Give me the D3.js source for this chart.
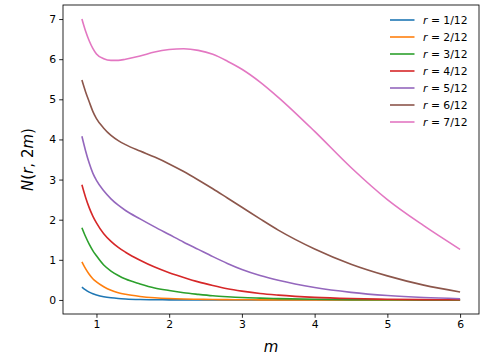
<!DOCTYPE html>
<html>
<head>
<meta charset="utf-8">
<script src="https://cdn.jsdelivr.net/npm/d3@7"></script>
<style>
  body { margin: 0; background: #fff; }
  svg { font-family: "DejaVu Sans", sans-serif; }
</style>
</head>
<body>
<svg width="498" height="361"></svg>
<script>
// sample points along m
var mValues = [0.8, 0.85, 0.9, 0.95, 1.0, 1.1, 1.2, 1.3, 1.4, 1.6, 1.8, 2.0, 2.2, 2.4, 2.6, 2.8, 3.0, 3.25, 3.5, 4.0, 4.5, 5.0, 5.5, 6.0];

var r1 = [0.32, 0.25, 0.195, 0.155, 0.125, 0.08, 0.053, 0.036, 0.025, 0.012, 0.006, 0.003, 0.0015, 0.001, 0, 0, 0, 0, 0, 0, 0, 0, 0, 0];
var r2 = [0.95, 0.78, 0.64, 0.53, 0.45, 0.33, 0.24, 0.18, 0.14, 0.088, 0.056, 0.036, 0.024, 0.016, 0.011, 0.007, 0.005, 0.003, 0.002, 0.001, 0, 0, 0, 0];
var r3 = [1.80, 1.58, 1.39, 1.23, 1.10, 0.87, 0.72, 0.61, 0.52, 0.40, 0.30, 0.235, 0.18, 0.14, 0.105, 0.08, 0.06, 0.045, 0.033, 0.017, 0.009, 0.005, 0.003, 0.001];
var r4 = [2.87, 2.56, 2.30, 2.09, 1.92, 1.65, 1.46, 1.31, 1.19, 0.99, 0.82, 0.68, 0.56, 0.45, 0.36, 0.28, 0.22, 0.16, 0.12, 0.065, 0.035, 0.018, 0.009, 0.004];
var r5 = [4.08, 3.72, 3.41, 3.16, 2.98, 2.72, 2.52, 2.36, 2.23, 2.02, 1.82, 1.63, 1.44, 1.26, 1.08, 0.91, 0.76, 0.61, 0.49, 0.31, 0.19, 0.11, 0.06, 0.03];
var r6 = [5.48, 5.19, 4.94, 4.70, 4.52, 4.28, 4.10, 3.97, 3.87, 3.71, 3.56, 3.39, 3.20, 2.99, 2.77, 2.54, 2.31, 2.02, 1.74, 1.27, 0.89, 0.60, 0.37, 0.20];
var r7 = [7.00, 6.70, 6.46, 6.27, 6.13, 6.01, 5.97, 5.97, 6.00, 6.08, 6.18, 6.24, 6.26, 6.22, 6.12, 5.95, 5.75, 5.43, 5.05, 4.20, 3.30, 2.50, 1.85, 1.26];

var labels = ["1/12", "2/12", "3/12", "4/12", "5/12", "6/12", "7/12"];
var colors = ["#1f77b4", "#ff7f0e", "#2ca02c", "#d62728", "#9467bd", "#8c564b", "#e377c2"];
var xTicks = [1, 2, 3, 4, 5, 6];
var yTicks = [0, 1, 2, 3, 4, 5, 6, 7];

var allSeries = [r1, r2, r3, r4, r5, r6, r7];

var plotLeft = 63, plotRight = 479, plotTop = 5, plotBottom = 314;

var svg = d3.select("svg");

var x = d3.scaleLinear().domain([0.54, 6.26]).range([plotLeft, plotRight]);
var y = d3.scaleLinear().domain([-0.35, 7.35]).range([plotBottom, plotTop]);

// monotoneX uses the real x spacing, so the uneven sample steps don't kink
var line = d3.line()
        .x(function(d){return x(d[0]);})
        .y(function(d){return y(d[1]);})
        .curve(d3.curveMonotoneX);

svg.selectAll("path.curve")
        .data(allSeries)
        .enter()
        .append("path")
        .attr("class", "curve")
        .attr("d", function(s){ return line(mValues.map(function(m, i){return [m, s[i]];})); })
        .style("fill", "none")
        .style("stroke", function(d, i){return colors[i];})
        .style("stroke-width", "1.6px");

// axes
var xAxis = svg.append("g")
        .attr("transform", "translate(0," + plotBottom + ")")
        .call(d3.axisBottom(x).tickValues(xTicks).tickSize(3.8).tickPadding(3).tickFormat(d3.format("d")));
var yAxis = svg.append("g")
        .attr("transform", "translate(" + plotLeft + ",0)")
        .call(d3.axisLeft(y).tickValues(yTicks).tickSize(3.8).tickPadding(3).tickFormat(d3.format("d")));

[xAxis, yAxis].forEach(function(a) {
    a.select(".domain").remove();
    a.selectAll("text").style("font-size", "10.8px").style("fill", "#000")
            .style("font-family", "DejaVu Sans");
    a.selectAll("line").style("stroke", "#000").style("stroke-width", "0.85px");
});

svg.append("rect")
        .attr("x", plotLeft).attr("y", plotTop)
        .attr("width", plotRight - plotLeft).attr("height", plotBottom - plotTop)
        .style("fill", "none")
        .style("stroke", "#000")
        .style("stroke-width", "0.85px");

// axis labels
svg.append("text")
        .attr("x", (plotLeft + plotRight) / 2)
        .attr("y", 352)
        .attr("text-anchor", "middle")
        .style("font-size", "15px")
        .style("font-style", "italic")
        .text("m");

var yl = svg.append("text")
        .attr("transform", "translate(33," + ((plotTop + plotBottom) / 2) + ") rotate(-90)")
        .attr("text-anchor", "middle")
        .style("font-size", "15px");
yl.append("tspan").style("font-style", "italic").text("N");
yl.append("tspan").text("(");
yl.append("tspan").style("font-style", "italic").text("r");
yl.append("tspan").text(", 2");
yl.append("tspan").style("font-style", "italic").text("m");
yl.append("tspan").text(")");

// legend
var lg = svg.selectAll("g.legend")
        .data(labels)
        .enter()
        .append("g")
        .attr("class", "legend")
        .attr("transform", function(d, i){return "translate(390," + (20 + i * 17) + ")";});

lg.append("line")
        .attr("x1", 0).attr("x2", 24.5)
        .style("stroke", function(d, i){return colors[i];})
        .style("stroke-width", "1.6px");

var lt = lg.append("text")
        .attr("x", 33)
        .attr("y", 4)
        .style("font-size", "10.8px");
lt.append("tspan").style("font-style", "italic").text("r");
lt.append("tspan").text(function(d){return " = " + d;});
</script>
</body>
</html>
